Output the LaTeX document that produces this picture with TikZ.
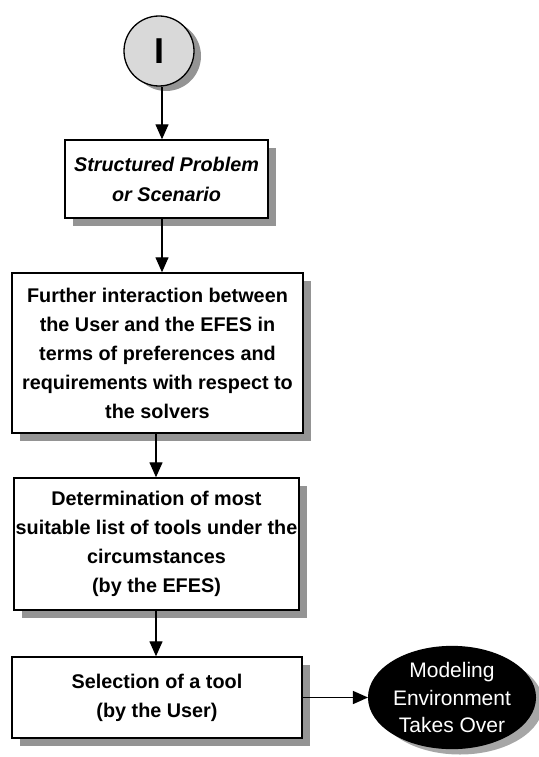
\documentclass[tikz,border=0pt]{standalone}
\usepackage{fontspec}
\setmainfont{Liberation Sans}
\usetikzlibrary{arrows.meta,shadows,shapes.geometric}

\tikzset{
  shade/.style={drop shadow={shadow xshift=8pt,shadow yshift=-8pt,fill=black!42,opacity=1}},
  stepbox/.style={draw=black,line width=1.4pt,fill=white,shade,align=center,
    inner sep=0pt,font=\fontsize{19.8}{29}\selectfont\bfseries},
  flow/.style={line width=1.3pt,-{Triangle[length=15pt,width=13pt]}},
}

\begin{document}
\begin{tikzpicture}[x=1pt,y=-1pt]
\useasboundingbox (0,0) rectangle (538,757);

% off-page connector
\node[circle,draw=black,line width=1.3pt,fill=black!15,minimum size=70pt,
  drop shadow={shadow xshift=7pt,shadow yshift=-5pt,fill=black!42,opacity=1},
  font=\fontsize{36}{36}\selectfont\bfseries] (conn) at (159,51) {I};

% process steps
\node[stepbox,minimum width=203pt,minimum height=78pt,
  font=\fontsize{19.8}{30}\selectfont\bfseries\itshape] (prob) at (166.5,179)
  {Structured Problem\\or Scenario};
\node[stepbox,minimum width=291pt,minimum height=160pt] (inter) at (157.5,353)
  {Further interaction between\\the User and the EFES in\\terms of preferences and\\requirements with respect to\\the solvers};
\node[stepbox,minimum width=285pt,minimum height=132pt] (det) at (156.5,544)
  {Determination of most\\suitable list of tools under the\\circumstances\\(by the EFES)};
\node[stepbox,minimum width=290pt,minimum height=81pt] (sel) at (157,697.5)
  {Selection of a tool\\(by the User)};

% hand-over terminal
\node[ellipse,draw=black,line width=1.3pt,fill=black,text=white,
  minimum width=139pt,minimum height=102pt,inner sep=0pt,align=center,
  drop shadow={shadow xshift=8pt,shadow yshift=-6pt,fill=black!35,opacity=1},
  font=\fontsize{21}{27.5}\selectfont] (env) at (452,697.5)
  {Modeling\\Environment\\Takes Over};

% connectors
\draw[flow] (conn.south -| 162,0) -- (prob.north -| 162,0);
\draw[flow] (prob.south -| 162,0) -- (inter.north -| 162,0);
\draw[flow] (inter.south -| 156,0) -- (det.north -| 156,0);
\draw[flow] (det.south -| 156,0) -- (sel.north -| 156,0);
\draw[flow] (sel.east) -- (env.west);
\end{tikzpicture}
\end{document}
